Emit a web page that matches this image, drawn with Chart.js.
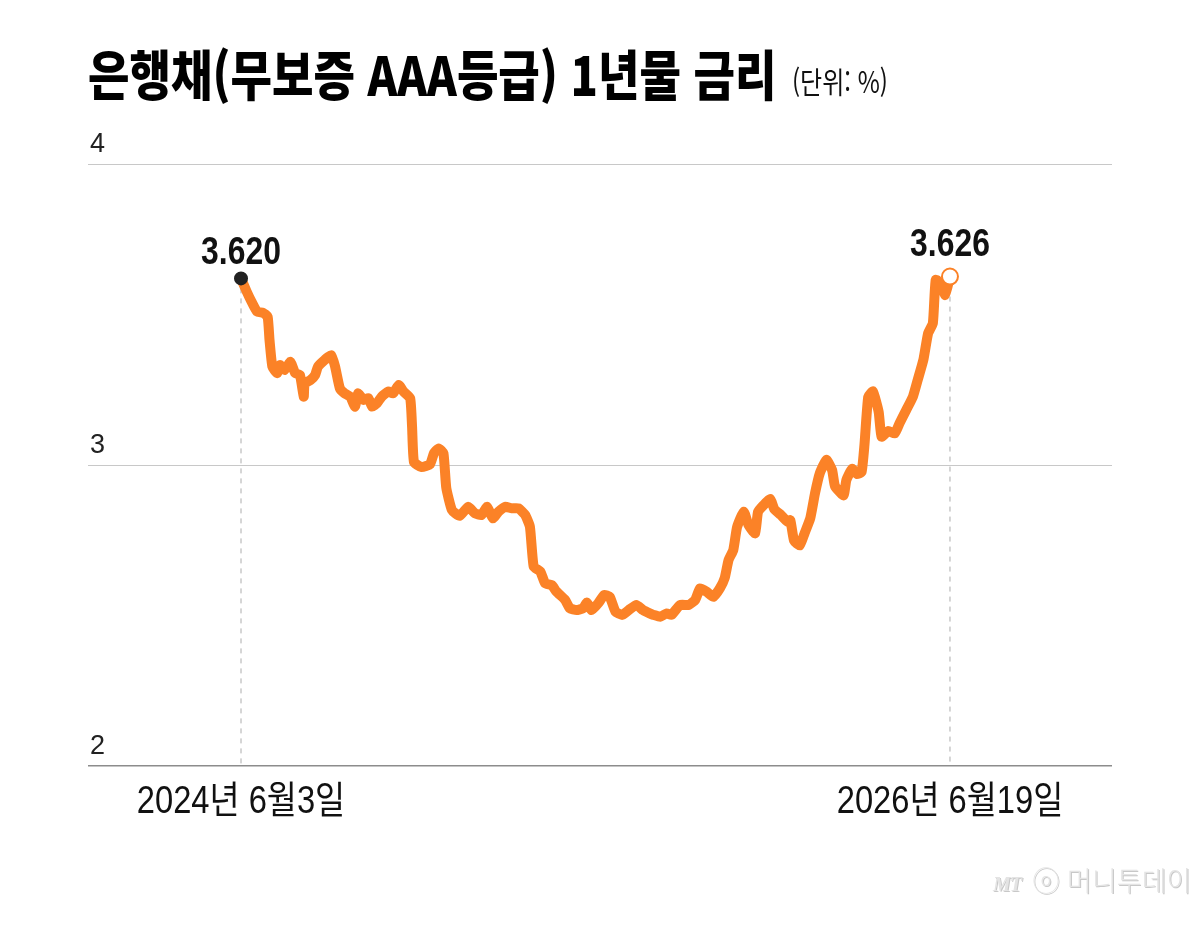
<!DOCTYPE html>
<html lang="ko">
<head>
<meta charset="utf-8">
<title>은행채(무보증 AAA등급) 1년물 금리</title>
<script src="https://cdn.jsdelivr.net/npm/chart.js@4.4.1/dist/chart.umd.min.js"></script>
<style>
  html, body { margin: 0; padding: 0; background: #fff; }
  #wrap { position: relative; width: 1200px; height: 932px; overflow: hidden; }
  #chart { position: absolute; left: 0; top: 0; }
  .title {
    position: absolute; left: 88px; top: 38px; white-space: nowrap;
    font: 900 54px 'Noto Sans CJK KR', sans-serif; line-height: 70px; color: #000;
    transform: scaleX(0.835); transform-origin: left top;
  }
  .unit {
    position: absolute; left: 792px; top: 58px; white-space: nowrap;
    font: 400 30px 'Noto Sans CJK KR', sans-serif; line-height: 44px; color: #111;
    transform: scaleX(0.8); transform-origin: left top;
  }
  .logo {
    position: absolute; left: 993px; top: 860px; white-space: nowrap;
    font: 300 27px 'Noto Sans CJK KR', sans-serif; line-height: 40px; color: #e4e4e4;
    text-shadow: 1px 1px 0 #c8c8c8;
  }
  .logo i { font: italic 700 20px 'Liberation Serif', serif; letter-spacing: -1px; margin-right: 4px; }
</style>
</head>
<body>
<div id="wrap">
  <canvas id="chart" width="1200" height="932"></canvas>
  <div class="title">은행채(무보증 AAA등급) 1년물 금리</div>
  <div class="unit">(단위: %)</div>
  <div class="logo"><i>MT</i> ⓞ 머니투데이</div>
</div>
<script>
// days since 2024-06-03
var days = [
  0, 6, 11, 17, 23, 28, 30, 33, 38, 41, 46, 52, 57, 62, 66, 67, 73, 78, 81, 88,
  95, 99, 104, 109, 115, 120, 123, 129, 134, 138, 143, 148, 155, 160, 166, 171, 178, 180, 182, 190,
  199, 203, 208, 213, 216, 222, 230, 239, 246, 253, 259, 265, 271, 278, 285, 292, 299, 304, 308, 315,
  320, 327, 332, 341, 346, 353, 360, 364, 369, 376, 382, 388, 394, 401, 408, 416, 423, 430, 434, 441,
  448, 453, 462, 471, 478, 483, 490, 497, 504, 509, 513, 518, 522, 529, 534, 541, 544, 550, 557, 561,
  568, 575, 578, 582, 588, 593, 599, 604, 609, 616, 622, 625, 634, 637, 643, 648, 653, 656, 660, 665,
  671, 674, 681, 688, 693, 700, 707, 712, 718, 723, 728, 731, 736, 741, 746
];
var rates = [
  3.620, 3.576, 3.543, 3.509, 3.506, 3.493, 3.415, 3.327, 3.305, 3.332, 3.316, 3.343, 3.305, 3.299, 3.227, 3.271, 3.282, 3.299, 3.327, 3.349,
  3.365, 3.327, 3.255, 3.238, 3.227, 3.194, 3.238, 3.216, 3.222, 3.194, 3.205, 3.227, 3.244, 3.238, 3.266, 3.244, 3.222, 3.127, 3.010, 2.993,
  3.003, 3.039, 3.055, 3.039, 2.924, 2.850, 2.831, 2.861, 2.840, 2.834, 2.861, 2.823, 2.845, 2.861, 2.856, 2.856, 2.834, 2.795, 2.662, 2.646,
  2.607, 2.601, 2.579, 2.552, 2.524, 2.518, 2.524, 2.543, 2.518, 2.541, 2.568, 2.562, 2.513, 2.502, 2.518, 2.535, 2.518, 2.507, 2.502, 2.496,
  2.507, 2.502, 2.535, 2.535, 2.552, 2.590, 2.579, 2.562, 2.591, 2.625, 2.684, 2.718, 2.794, 2.845, 2.801, 2.773, 2.844, 2.867, 2.887, 2.854,
  2.834, 2.812, 2.817, 2.748, 2.733, 2.773, 2.823, 2.906, 2.972, 3.017, 2.983, 2.930, 2.899, 2.950, 2.987, 2.970, 2.977, 3.066, 3.227, 3.244,
  3.176, 3.094, 3.113, 3.105, 3.139, 3.183, 3.227, 3.282, 3.349, 3.438, 3.471, 3.615, 3.604, 3.565, 3.626
];
var dateTicks = [0, 746];
var dateLabels = ['2024년 6월3일', '2026년 6월19일'];
var yTicks = [2, 3, 4];

var ORANGE = '#fb8227';
var last = days.length - 1;
var FONT = "'Liberation Sans', 'Noto Sans CJK KR', sans-serif";

function toPoints(xs, ys) {
  return xs.map(function (d, i) { return { x: d, y: ys[i] }; });
}

// draw text squeezed horizontally, like the condensed face of the original
function narrowText(ctx, text, x, y, font, sx) {
  ctx.save();
  ctx.font = font;
  ctx.fillStyle = '#111';
  ctx.textAlign = 'center';
  ctx.textBaseline = 'alphabetic';
  ctx.translate(x, y);
  ctx.scale(sx, 1);
  ctx.fillText(text, 0, 0);
  ctx.restore();
}

var labelPlugin = {
  id: 'labels',
  afterDatasetsDraw: function (chart) {
    var ctx = chart.ctx, xs = chart.scales.x, ys = chart.scales.y;
    var lift = [14, 21];
    [0, last].forEach(function (i, k) {
      narrowText(ctx, rates[i].toFixed(3), xs.getPixelForValue(days[i]),
        ys.getPixelForValue(rates[i]) - lift[k], 'bold 38px ' + FONT, 0.84);
    });
    dateTicks.forEach(function (d, i) {
      narrowText(ctx, dateLabels[i], xs.getPixelForValue(d), chart.chartArea.bottom + 47,
        '38px ' + FONT, 0.86);
    });
  }
};

// dashed guides from the end points down to the axis
var guides = dateTicks.map(function (d, i) {
  var v = i === 0 ? rates[0] : rates[last];
  return {
    data: toPoints([d, d], [v, 2]),
    borderColor: '#c8c8c8',
    borderWidth: 1.5,
    borderDash: [5, 5],
    pointRadius: 0,
    order: 3
  };
});

new Chart(document.getElementById('chart'), {
  type: 'line',
  data: {
    datasets: guides.concat([{
      data: toPoints(days, rates),
      borderColor: ORANGE,
      borderWidth: 10,
      borderJoinStyle: 'round',
      borderCapStyle: 'round',
      tension: 0.15,
      order: 1,
      pointRadius: function (c) { return c.dataIndex === 0 ? 6 : (c.dataIndex === last ? 8 : 0); },
      pointBackgroundColor: function (c) { return c.dataIndex === 0 ? '#222' : '#fff'; },
      pointBorderColor: function (c) { return c.dataIndex === 0 ? '#222' : ORANGE; },
      pointBorderWidth: 2
    }])
  },
  options: {
    responsive: false,
    animation: false,
    layout: { padding: { left: 88, right: 88, top: 164, bottom: 166 } },
    plugins: { legend: { display: false }, tooltip: { enabled: false } },
    scales: {
      x: { type: 'linear', min: -161, max: 916.5, display: false },
      y: {
        min: 2, max: 4,
        afterBuildTicks: function (s) { s.ticks = yTicks.map(function (v) { return { value: v }; }); },
        afterFit: function (s) { s.width = 0; },
        border: { display: false },
        grid: {
          drawTicks: false,
          color: function (c) { return c.tick && c.tick.value === 2 ? '#8c8c8c' : '#c8c8c8'; },
          lineWidth: function (c) { return c.tick && c.tick.value === 2 ? 1.5 : 1; }
        },
        ticks: {
          mirror: true, padding: 2, labelOffset: -19,
          color: '#222', font: { family: FONT, size: 27 },
          callback: function (v) { return String(v); }
        }
      }
    }
  },
  plugins: [labelPlugin]
});
</script>
</body>
</html>
